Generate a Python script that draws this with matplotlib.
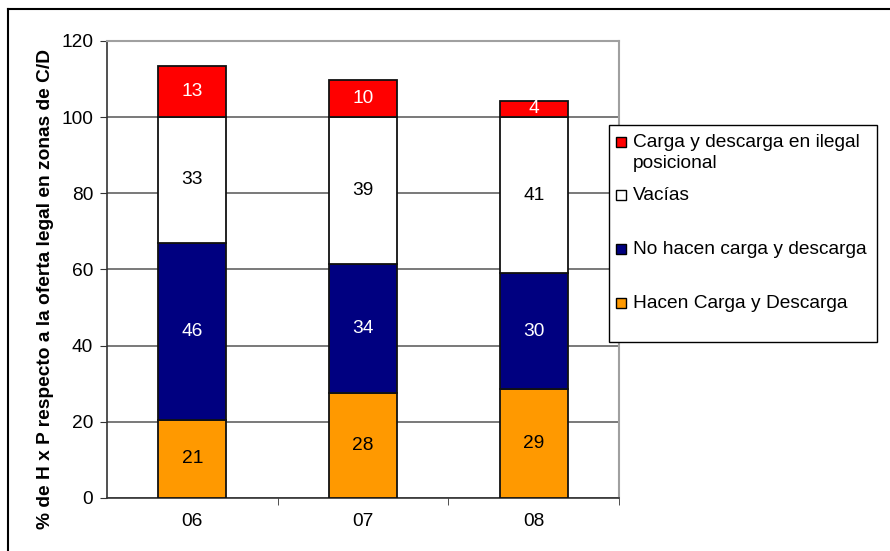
import numpy as np
import matplotlib
matplotlib.use('Agg')
import matplotlib.pyplot as plt
from matplotlib.lines import Line2D
from matplotlib.patches import Rectangle

plt.rcParams['font.family'] = ['Liberation Sans', 'DejaVu Sans']

# Daten
years = ['06', '07', '08']
hacen = [20.6, 27.6, 28.6]
no_hacen = [46.4, 33.8, 30.4]
vacias = [33.0, 38.6, 41.0]
ilegal = [13.4, 9.8, 4.3]

hacen_lbl = [21, 28, 29]
no_hacen_lbl = [46, 34, 30]
vacias_lbl = [33, 39, 41]
ilegal_lbl = [13, 10, 4]

series_names = ['Carga y descarga en ilegal\nposicional', 'Vacías',
                'No hacen carga y descarga', 'Hacen Carga y Descarga']
series_colors = ['#ff0000', 'white', '#000080', '#ff9900']

fs = 13.8
W, H = 890, 551
fig = plt.figure(figsize=(W / 100, H / 100), dpi=100)
ax = fig.add_axes([0.1202, 0.0962, 0.5753, 0.8294])

x = np.arange(len(years))
w = 0.4
b1 = np.array(hacen)
b2 = b1 + np.array(no_hacen)
b3 = b2 + np.array(vacias)

ec = '#111111'
r1 = ax.bar(x, hacen, w, color=series_colors[3], edgecolor=ec, linewidth=1.3, zorder=3)
r2 = ax.bar(x, no_hacen, w, bottom=b1, color=series_colors[2], edgecolor=ec, linewidth=1.3, zorder=3)
r3 = ax.bar(x, vacias, w, bottom=b2, color=series_colors[1], edgecolor=ec, linewidth=1.3, zorder=3)
r4 = ax.bar(x, ilegal, w, bottom=b3, color=series_colors[0], edgecolor=ec, linewidth=1.3, zorder=3)

ax.bar_label(r1, labels=[str(v) for v in hacen_lbl], label_type='center', fontsize=fs, color='black')
ax.bar_label(r2, labels=[str(v) for v in no_hacen_lbl], label_type='center', fontsize=fs, color='white')
ax.bar_label(r3, labels=[str(v) for v in vacias_lbl], label_type='center', fontsize=fs, color='black')
ax.bar_label(r4, labels=[str(v) for v in ilegal_lbl], label_type='center', fontsize=fs, color='white')

ax.set_xlim(-0.5, 2.5)
ax.set_ylim(0, 120)
ax.set_yticks(range(0, 121, 20))
ax.set_xticks(x)
ax.set_xticklabels(years)
ax.set_xticks([0.5, 1.5, 2.5], minor=True)
ax.tick_params(axis='x', which='major', length=0, pad=11, labelsize=fs)
ax.tick_params(axis='x', which='minor', length=5, color='#333333')
ax.tick_params(axis='y', length=5, color='#333333', labelsize=fs, pad=5)
ax.yaxis.grid(True, color='#555555', linewidth=1.1, zorder=0)

for s in ['top', 'right']:
    ax.spines[s].set_color('#a0a0a0')
    ax.spines[s].set_linewidth(1.5)
for s in ['left', 'bottom']:
    ax.spines[s].set_color('#333333')
    ax.spines[s].set_linewidth(1.2)

ax.set_ylabel('% de H x P respecto a la oferta legal en zonas de C/D', fontsize=fs, fontweight='bold')
ax.yaxis.set_label_coords(-0.104, 0.458)

# Legende von Hand (wie Excel)
def fx(px):
    return px / W

def fy(py):
    return 1 - py / H

fig.add_artist(Rectangle((fx(609), fy(342)), fx(877) - fx(609), fy(125) - fy(342),
                         transform=fig.transFigure, facecolor='white', edgecolor='black',
                         linewidth=1.0, zorder=5))
entry_y = [142, 195, 249, 303]
text_y = [153, 195, 249, 303]
for name, col, ey, ty in zip(series_names, series_colors, entry_y, text_y):
    fig.add_artist(Rectangle((fx(616), fy(ey + 5)), fx(10), fy(0) - fy(10),
                             transform=fig.transFigure, facecolor=col, edgecolor='black',
                             linewidth=1.0, zorder=6))
    fig.text(fx(633), fy(ty), name, fontsize=fs, va='center', ha='left',
             linespacing=1.3, zorder=7)

# Rahmen oben und links
fig.add_artist(Line2D([0.009, 1.0], [0.984, 0.984], transform=fig.transFigure, color='black', linewidth=1.5))
fig.add_artist(Line2D([0.009, 0.009], [0.0, 0.984], transform=fig.transFigure, color='black', linewidth=1.5))

plt.savefig('out.png', dpi=100)
plt.close()
